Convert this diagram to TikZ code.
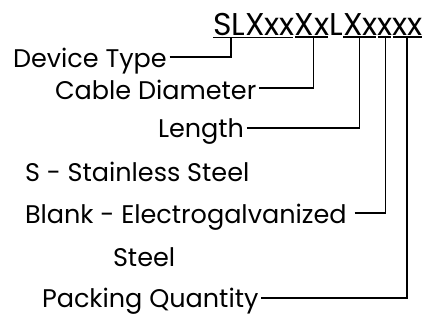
\documentclass[tikz,border=0pt]{standalone}
\usepackage{fontspec}
\setmainfont{Poppins}
\usetikzlibrary{positioning,calc}

\begin{document}
\begin{tikzpicture}[x=1pt, y=-1pt,
    code/.style={inner sep=0pt, outer sep=0pt, font=\fontsize{31.5}{36}\selectfont, anchor=base west},
    lab/.style={inner sep=0pt, outer sep=0pt, font=\fontsize{25.5}{30}\selectfont, anchor=base west},
    uline/.style={line width=1.3pt},
    link/.style={line width=1.3pt},
]
\useasboundingbox (0,0) rectangle (438,333);

% part number, split in groups
\node[code] (g1) at (213,35) {SLXxx};
\node[code] (g2) at (g1.base east) {Xx};
\node[code] (g3) at (g2.base east) {L};
\node[code] (g4) at (g3.base east) {Xx};
\node[code] (g5) at (g4.base east) {x};
\node[code] (g6) at (g5.base east) {xx};

% underlines
\foreach \g in {g1,g2,g4,g5,g6}
  \draw[uline] ([yshift=-2pt]\g.south west) -- ([xshift=-1.5pt, yshift=-2pt]\g.south east);

% labels
\node[lab] (dev) at (13,67) {Device Type};
\node[lab] (dia) at (55,99) {Cable Diameter};
\node[lab] (len) at (158,137) {Length};
\node[lab] (ss) at (25,181) {S - Stainless Steel};
\node[lab] (eg) at (25,223) {Blank - Electrogalvanized};
\node[lab] (eg2) at (113,266) {Steel};
\node[lab] (qty) at (42,307) {Packing Quantity};

% connectors
\coordinate (c1) at ($(g1.south west)+(18,2)$);
\coordinate (c2) at ($(g2.south)+(1,2)$);
\coordinate (c4) at ($(g4.south)+(-1,2)$);
\coordinate (c5) at ($(g5.south)+(0,2)$);
\coordinate (c6) at ($(g6.south)+(-1,2)$);
\draw[link] ($(dev.base east)+(3,-10)$) -| (c1);
\draw[link] ($(dia.base east)+(3,-11)$) -| (c2);
\draw[link] ($(len.base east)+(3,-9)$) -| (c4);
\draw[link] ($(eg.base east)+(8,-10)$) -| (c5);
\draw[link] ($(qty.base east)+(3,-9)$) -| (c6);
\end{tikzpicture}
\end{document}
